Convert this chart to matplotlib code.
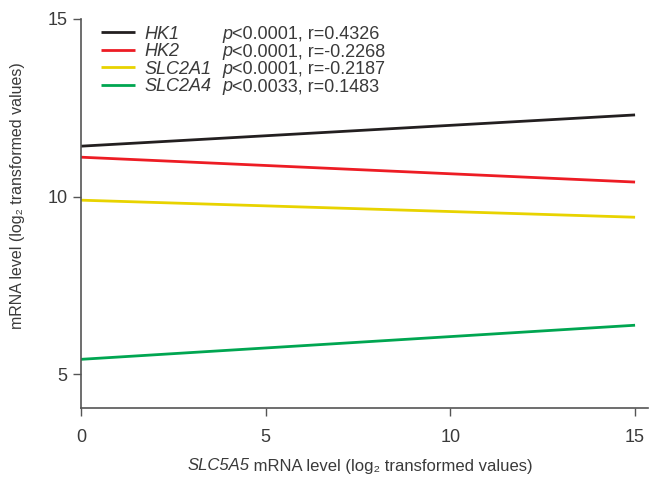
import matplotlib
matplotlib.use("Agg")
import matplotlib.pyplot as plt

FONT = "Liberation Sans"
plt.rcParams['font.family'] = [FONT, 'DejaVu Sans']

genes = ["HK1", "HK2", "SLC2A1", "SLC2A4"]
x_ends = [0, 15]
y_start = [11.42, 11.11, 9.90, 5.42]
y_end = [12.30, 10.41, 9.42, 6.38]
pvals = ["<0.0001", "<0.0001", "<0.0001", "<0.0033"]
rvals = ["0.4326", "-0.2268", "-0.2187", "0.1483"]
colors = ["#231f20", "#ed1c24", "#e8d300", "#00a651"]
xticks = [0, 5, 10, 15]
yticks = [5, 10, 15]

TXT = "#3a3a3a"
AX = "#555555"
W, H = 649, 479

fig = plt.figure(figsize=(6.49, 4.79), dpi=100)
ax = fig.add_axes([81 / W, 1 - 408 / H, 567 / W, (408 - 19) / H])

handles = []
for g, y0, y1, c in zip(genes, y_start, y_end, colors):
    h, = ax.plot(x_ends, [y0, y1], color=c, lw=2.0, solid_capstyle='butt')
    handles.append(h)

ax.set_xlim(0, 15.35)
ax.set_ylim(4.05, 15)
ax.set_xticks(xticks)
ax.set_yticks(yticks)
ax.tick_params(axis='both', colors=AX, labelcolor=TXT, labelsize=13, length=6, width=1)
ax.tick_params(axis='x', pad=9)
for s in ['top', 'right']:
    ax.spines[s].set_visible(False)
for s in ['left', 'bottom']:
    ax.spines[s].set_color(AX)
    ax.spines[s].set_linewidth(1.2)

FS = 13
leg = ax.legend(handles, genes, loc='upper left',
                bbox_to_anchor=(0.026, 0.997), frameon=False, fontsize=FS,
                handlelength=1.85, handletextpad=0.55, labelspacing=0.03,
                borderaxespad=0.0, borderpad=0.3)
for t in leg.get_texts():
    t.set_color(TXT)
    t.set_fontstyle('italic')

fig.canvas.draw()
r = fig.canvas.get_renderer()

# statistics column: italic p, then the rest
for t, p, rv in zip(leg.get_texts(), pvals, rvals):
    bb = t.get_window_extent(r)
    yc = (bb.y0 + bb.y1) / 2
    x0 = 222
    tp = fig.text(x0 / W, yc / H, "p", fontsize=FS, fontstyle='italic', color=TXT,
                  va='center', ha='left')
    wb = tp.get_window_extent(r)
    fig.text((wb.x1 + 0.5) / W, yc / H, "%s, r=%s" % (p, rv), fontsize=FS, color=TXT,
             va='center', ha='left')

# x label: italic gene name + plain rest, centred at x=360 px
LFS = 12
ycl = 1 - 466 / H
t1 = fig.text(0, ycl, "SLC5A5", fontsize=LFS, fontstyle='italic', color=TXT, va='center', ha='left')
t2 = fig.text(0, ycl, " mRNA level (log\u2082 transformed values)", fontsize=LFS, color=TXT,
              va='center', ha='left')
w1 = t1.get_window_extent(r).width
w2 = t2.get_window_extent(r).width
start = 360 - (w1 + w2) / 2
t1.set_x(start / W)
t2.set_x((start + w1) / W)

# y label
fig.text(18 / W, 1 - 196 / H, "mRNA level (log\u2082 transformed values)", fontsize=11.5,
         color=TXT, rotation=90, va='center', ha='center')

fig.savefig("out.png", dpi=100)
